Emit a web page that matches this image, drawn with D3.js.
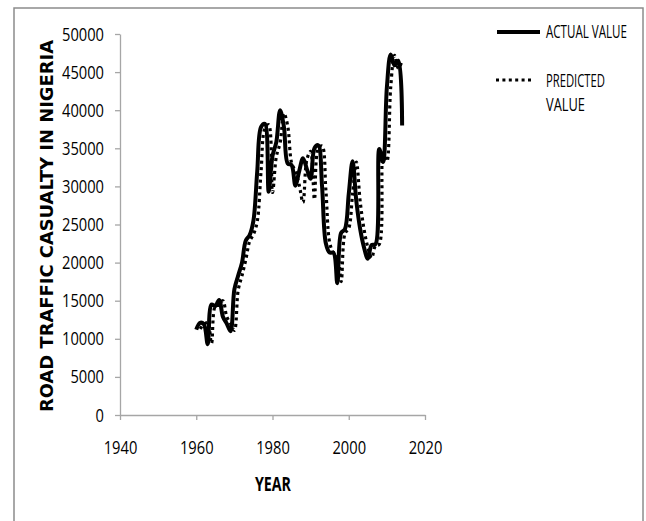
<!DOCTYPE html>
<html>
<head>
<meta charset="utf-8">
<script src="https://cdn.jsdelivr.net/npm/d3@7"></script>
<style>
  body { margin: 0; background: #fff; }
  .tick text { font-family: "Open Sans", "Liberation Sans", sans-serif; font-size: 19px; fill: #000; }
  .axis path, .axis line { stroke: #a6a6a6; stroke-width: 1.3px; }
</style>
</head>
<body>
<div id="chart"></div>
<script>

  // years and series
  var years = d3.range(1960, 2015);

  var actual = [
    11200, 12100, 11900, 9300, 14500, 14300, 15100, 12900, 12000, 11000,
    16500, 18300, 20000, 22900, 23600, 25500, 32000, 37800, 38200, 29300,
    34000, 35800, 40000, 37800, 33000, 32800, 30100, 32000, 33700, 32300,
    31000, 35000, 35400, 30000, 22500, 21300, 21300, 17300, 23900, 24400,
    29000, 33300, 28000, 24400, 22000, 20500, 22300, 22400, 34900, 33200,
    43000, 47300, 45900, 46500, 38000
  ];

  var predYears = d3.range(1961, 2015);
  var predicted = [
    11300, 11900, 12100, 9400, 14300, 14400, 15000, 12900, 12000, 11100,
    16400, 18300, 20400, 22800, 23700, 25400, 32000, 37600, 38100, 29200,
    33900, 35700, 39600, 37900, 33100, 32000, 30200, 27900, 33500, 34600,
    28300, 35000, 35300, 29500, 22600, 21300, 21000, 17500, 23800, 24500,
    29000, 33200, 28000, 24400, 22000, 20600, 22200, 22400, 34700, 33300,
    43000, 47200, 45500, 46500
  ];

  var xTicks = [1940, 1960, 1980, 2000, 2020];
  var yTicks = d3.range(0, 50001, 5000);

  var width = 646,
      height = 521;

  var svg = d3.select("#chart").append("svg")
      .attr("width", width)
      .attr("height", height);

  // outer frame
  svg.append("rect")
      .attr("x", 14).attr("y", 8)
      .attr("width", 629).attr("height", 530)
      .attr("fill", "none")
      .attr("stroke", "#8c8c8c")
      .attr("stroke-width", 1.5);

  var x = d3.scaleLinear().domain([1940, 2020]).range([120, 425]);
  var y = d3.scaleLinear().domain([0, 50000]).range([415, 34]);

  // narrow the labels to the width of the original's condensed font
  function squeeze(sel) {
    sel.selectAll(".tick text")
        .attr("textLength", function() { return this.textContent.length * 8.4; })
        .attr("lengthAdjust", "spacingAndGlyphs");
  }

  svg.append("g")
      .attr("class", "axis")
      .attr("transform", "translate(0,415)")
      .call(d3.axisBottom(x).tickValues(xTicks).tickFormat(d3.format("d")).tickSize(5).tickSizeOuter(0).tickPadding(21))
      .call(squeeze);

  svg.append("g")
      .attr("class", "axis")
      .attr("transform", "translate(120,0)")
      .call(d3.axisLeft(y).tickValues(yTicks).tickFormat(d3.format("d")).tickSize(5).tickSizeOuter(0).tickPadding(11))
      .call(squeeze);

  var curve = d3.curveCatmullRom.alpha(0.5);

  var lineA = d3.line()
      .x(function(d, i) { return x(years[i]); })
      .y(function(d) { return y(d); })
      .curve(curve);

  var lineP = d3.line()
      .x(function(d, i) { return x(predYears[i]); })
      .y(function(d) { return y(d); })
      .curve(curve);

  svg.append("path")
      .attr("d", lineP(predicted))
      .attr("fill", "none")
      .attr("stroke", "#000")
      .attr("stroke-width", 3.2)
      .attr("stroke-dasharray", "3,3.4");

  svg.append("path")
      .attr("d", lineA(actual))
      .attr("fill", "none")
      .attr("stroke", "#000")
      .attr("stroke-width", 4)
      .attr("stroke-linejoin", "round");

  // axis titles
  svg.append("text")
      .attr("x", 273).attr("y", 491)
      .attr("text-anchor", "middle")
      .attr("textLength", 36)
      .attr("lengthAdjust", "spacingAndGlyphs")
      .style("font-family", "'Open Sans', 'Liberation Sans', sans-serif")
      .style("font-weight", "bold")
      .style("font-size", "20px")
      .text("YEAR");

  svg.append("text")
      .attr("transform", "translate(53,226) rotate(-90)")
      .attr("text-anchor", "middle")
      .attr("textLength", 372)
      .attr("lengthAdjust", "spacingAndGlyphs")
      .style("font-family", "'DejaVu Sans', Verdana, sans-serif")
      .style("font-weight", "bold")
      .style("font-size", "17.5px")
      .text("ROAD TRAFFIC CASUALTY IN NIGERIA");

  // legend
  var legend = svg.append("g");

  legend.append("line")
      .attr("x1", 497).attr("x2", 540)
      .attr("y1", 32).attr("y2", 32)
      .attr("stroke", "#000").attr("stroke-width", 4);

  legend.append("line")
      .attr("x1", 496).attr("x2", 534)
      .attr("y1", 80).attr("y2", 80)
      .attr("stroke", "#000").attr("stroke-width", 3.2)
      .attr("stroke-dasharray", "3,3.4");

  var legendText = [
    { t: "ACTUAL VALUE", y: 38, w: 81 },
    { t: "PREDICTED", y: 87, w: 59 },
    { t: "VALUE", y: 111, w: 39 }
  ];

  // squeeze each legend label horizontally to the original's width
  legend.selectAll("text.lg")
      .data(legendText)
      .enter().append("text")
      .attr("class", "lg")
      .style("font-family", "'Open Sans', 'Liberation Sans', sans-serif")
      .style("font-size", "18px")
      .text(function(d) { return d.t; })
      .attr("transform", function(d) {
        var k = d.w / this.getComputedTextLength();
        return "translate(546," + d.y + ") scale(" + k + ",1)";
      });

</script>
</body>
</html>
